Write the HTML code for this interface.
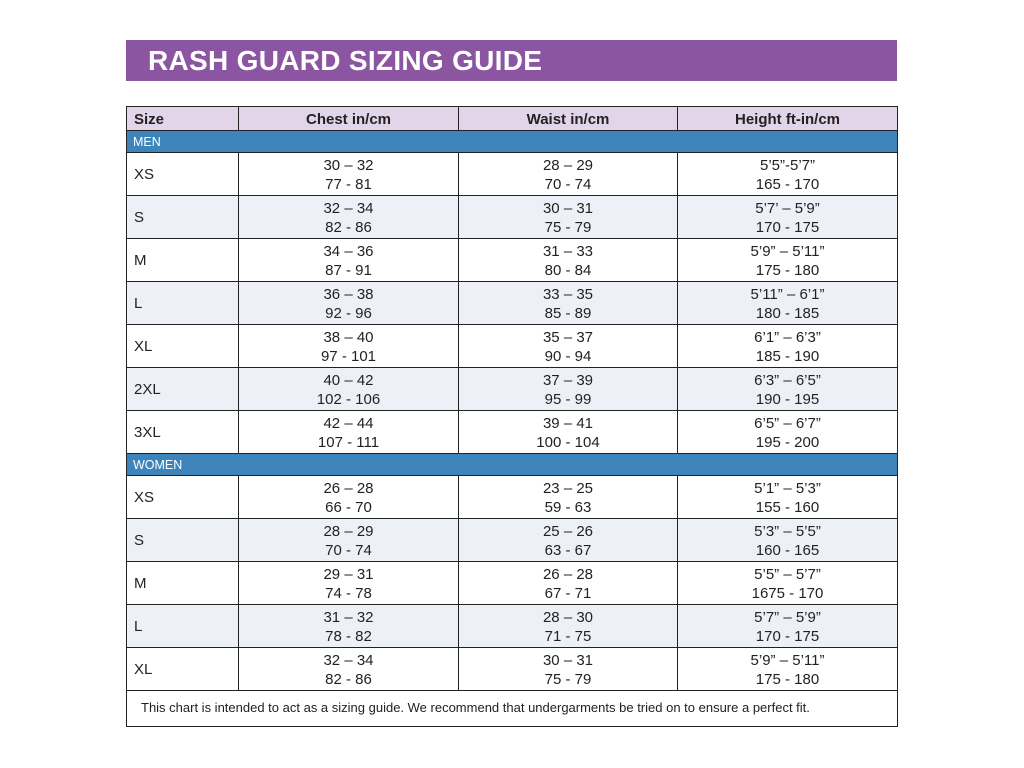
<!DOCTYPE html>
<html><head><meta charset="utf-8"><style>
body{margin:0;width:1024px;height:768px;background:#fff;font-family:"Liberation Sans",sans-serif;position:relative;overflow:hidden}
.t{position:absolute;left:126px;top:40px;width:771px;height:41px;background:#8b55a2;color:#fff;font-size:28px;font-weight:bold;line-height:42px;padding-left:22px;box-sizing:border-box;letter-spacing:0.3px}
table{position:absolute;left:126px;top:106px;width:771px;border-collapse:collapse;table-layout:fixed}
td{border:1px solid #222;padding:0;font-size:15px;color:#222;text-align:center;line-height:18.5px;box-sizing:border-box}
td.s{text-align:left;padding-left:7px}
tr.h td{background:#e2d5ea;font-weight:bold;height:24px;padding-top:3px}
tr.g td{background:#3d84ba;color:#fff;text-align:left;padding-left:6px;font-size:12.5px;height:22px;padding-top:2px}
tr.r td{height:43px;padding-top:3px}
tr.e td{background:#edf1f7}
tr.f td{height:36px;text-align:left;padding-left:14px;font-size:13px}
</style></head><body>
<div class="t">RASH GUARD SIZING GUIDE</div>
<table>
<colgroup><col style="width:112px"><col style="width:220px"><col style="width:219px"><col style="width:220px"></colgroup>
<tr class="h"><td class="s">Size</td><td>Chest in/cm</td><td>Waist in/cm</td><td>Height ft-in/cm</td></tr>
<tr class="g"><td colspan="4">MEN</td></tr>
<tr class="r"><td class="s">XS</td><td>30 – 32<br>77 - 81</td><td>28 – 29<br>70 - 74</td><td>5’5”-5’7”<br>165 - 170</td></tr>
<tr class="r e"><td class="s">S</td><td>32 – 34<br>82 - 86</td><td>30 – 31<br>75 - 79</td><td>5’7’ – 5’9”<br>170 - 175</td></tr>
<tr class="r"><td class="s">M</td><td>34 – 36<br>87 - 91</td><td>31 – 33<br>80 - 84</td><td>5’9” – 5’11”<br>175 - 180</td></tr>
<tr class="r e"><td class="s">L</td><td>36 – 38<br>92 - 96</td><td>33 – 35<br>85 - 89</td><td>5’11” – 6’1”<br>180 - 185</td></tr>
<tr class="r"><td class="s">XL</td><td>38 – 40<br>97 - 101</td><td>35 – 37<br>90 - 94</td><td>6’1” – 6’3”<br>185 - 190</td></tr>
<tr class="r e"><td class="s">2XL</td><td>40 – 42<br>102 - 106</td><td>37 – 39<br>95 - 99</td><td>6’3” – 6’5”<br>190 - 195</td></tr>
<tr class="r"><td class="s">3XL</td><td>42 – 44<br>107 - 111</td><td>39 – 41<br>100 - 104</td><td>6’5” – 6’7”<br>195 - 200</td></tr>
<tr class="g"><td colspan="4">WOMEN</td></tr>
<tr class="r"><td class="s">XS</td><td>26 – 28<br>66 - 70</td><td>23 – 25<br>59 - 63</td><td>5’1” – 5’3”<br>155 - 160</td></tr>
<tr class="r e"><td class="s">S</td><td>28 – 29<br>70 - 74</td><td>25 – 26<br>63 - 67</td><td>5’3” – 5’5”<br>160 - 165</td></tr>
<tr class="r"><td class="s">M</td><td>29 – 31<br>74 - 78</td><td>26 – 28<br>67 - 71</td><td>5’5” – 5’7”<br>1675 - 170</td></tr>
<tr class="r e"><td class="s">L</td><td>31 – 32<br>78 - 82</td><td>28 – 30<br>71 - 75</td><td>5’7” – 5’9”<br>170 - 175</td></tr>
<tr class="r"><td class="s">XL</td><td>32 – 34<br>82 - 86</td><td>30 – 31<br>75 - 79</td><td>5’9” – 5’11”<br>175 - 180</td></tr>
<tr class="f"><td colspan="4">This chart is intended to act as a sizing guide. We recommend that undergarments be tried on to ensure a perfect fit.</td></tr>
</table>
</body></html>
